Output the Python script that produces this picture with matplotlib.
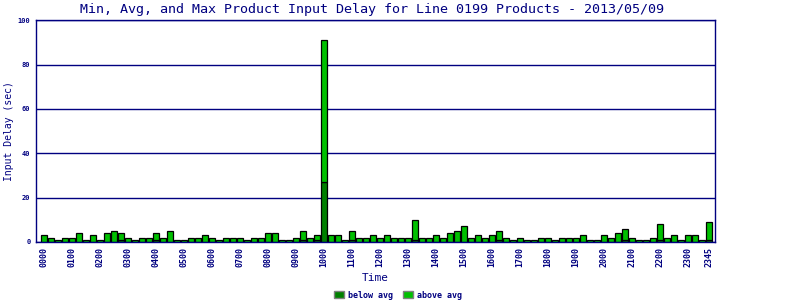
import matplotlib
matplotlib.use("Agg")
import matplotlib.pyplot as plt
from matplotlib.patches import Patch

# ---- data ----
times = []
for h in range(24):
    for m in (0, 15, 30, 45):
        times.append(f"{h:02d}{m:02d}")

total_delay = [3.1, 1.7, 0.8, 1.7, 1.7, 4.1, 0.8, 3.1, 0.8, 4.1, 5.0, 4.1,
               1.7, 0.8, 1.7, 1.7, 4.1, 1.7, 5.0, 0.8, 0.8, 1.7, 1.7, 3.1,
               1.7, 0.8, 1.7, 1.7, 1.7, 0.8, 1.7, 1.7, 4.1, 4.1, 0.8, 0.8,
               1.7, 5.0, 1.7, 3.1, 91.0, 3.1, 3.1, 0.8, 5.0, 1.7, 1.7, 3.1,
               1.7, 3.1, 1.7, 1.7, 1.7, 9.8, 1.7, 1.7, 3.1, 1.7, 4.1, 5.0,
               7.0, 1.7, 3.1, 1.7, 3.1, 5.0, 1.7, 0.8, 1.7, 0.8, 0.8, 1.7,
               1.7, 0.8, 1.7, 1.7, 1.7, 3.1, 0.8, 0.8, 3.1, 1.7, 4.1, 5.9,
               1.7, 0.8, 0.8, 1.7, 8.1, 1.7, 3.1, 0.8, 3.1, 3.1, 0.8, 9.0]

below_avg = [0.0] * 96
for i in (11, 16, 37, 39, 44, 53, 65, 83, 88, 95):
    below_avg[i] = 0.8
below_avg[40] = 27.0

above_avg = [t - b for t, b in zip(total_delay, below_avg)]

tick_idx = list(range(0, 96, 4)) + [95]
tick_labels = [times[i] for i in tick_idx]

title = "Min, Avg, and Max Product Input Delay for Line 0199 Products - 2013/05/09"

# ---- style ----
NAVY = "#000080"
DARK = "#008000"
BRIGHT = "#00c000"
MONO = "DejaVu Sans Mono"

fig = plt.figure(figsize=(8, 3), dpi=100)
ax = fig.add_axes([36/800, 1 - 241.8/300, (715-36)/800, (241.8-20.3)/300])

x = list(range(len(times)))
ax.bar(x, below_avg, width=0.78, color=DARK, edgecolor="black", linewidth=0.9, zorder=2)
ax.bar(x, above_avg, bottom=below_avg, width=0.78, color=BRIGHT, edgecolor="black",
       linewidth=0.9, zorder=2)

ax.set_xlim(-1.14, 95.86)
ax.set_ylim(0, 100)
ax.set_yticks([0, 20, 40, 60, 80, 100])
ax.set_yticklabels(["0", "20", "40", "60", "80", "100"], fontfamily=MONO,
                   fontsize=5, fontweight="bold", color=NAVY)
ax.set_xticks(tick_idx)
ax.set_xticklabels(tick_labels, rotation=90, fontfamily=MONO, fontsize=6,
                   fontweight="bold", color=NAVY)
ax.tick_params(axis="both", length=0, pad=4)
ax.tick_params(axis="x", pad=4)

ax.yaxis.grid(True, color=NAVY, linewidth=1.0)
ax.set_axisbelow(True)
for s in ax.spines.values():
    s.set_color(NAVY)
    s.set_linewidth(1.0)

ax.set_xlabel("Time", fontfamily=MONO, fontsize=8, color=NAVY, labelpad=4)
ax.set_ylabel("Input Delay (sec)", fontfamily=MONO, fontsize=7, color=NAVY, labelpad=3)

fig.text(372/800, 1 - 10/300, title, fontfamily=MONO, fontsize=9.6, color=NAVY,
         ha="center", va="center")

handles = [Patch(facecolor=DARK, edgecolor="#808080", linewidth=1.0, label="below avg"),
           Patch(facecolor=BRIGHT, edgecolor="#808080", linewidth=1.0, label="above avg")]
leg = fig.legend(handles=handles, loc="center", bbox_to_anchor=(398/800, 1 - 295/300),
                 ncol=2, frameon=False, handlelength=1.2, handleheight=0.9,
                 handletextpad=0.5, columnspacing=1.2,
                 prop={"family": MONO, "size": 6, "weight": "bold"})
for t in leg.get_texts():
    t.set_color(NAVY)

fig.savefig("out.png", dpi=100)
